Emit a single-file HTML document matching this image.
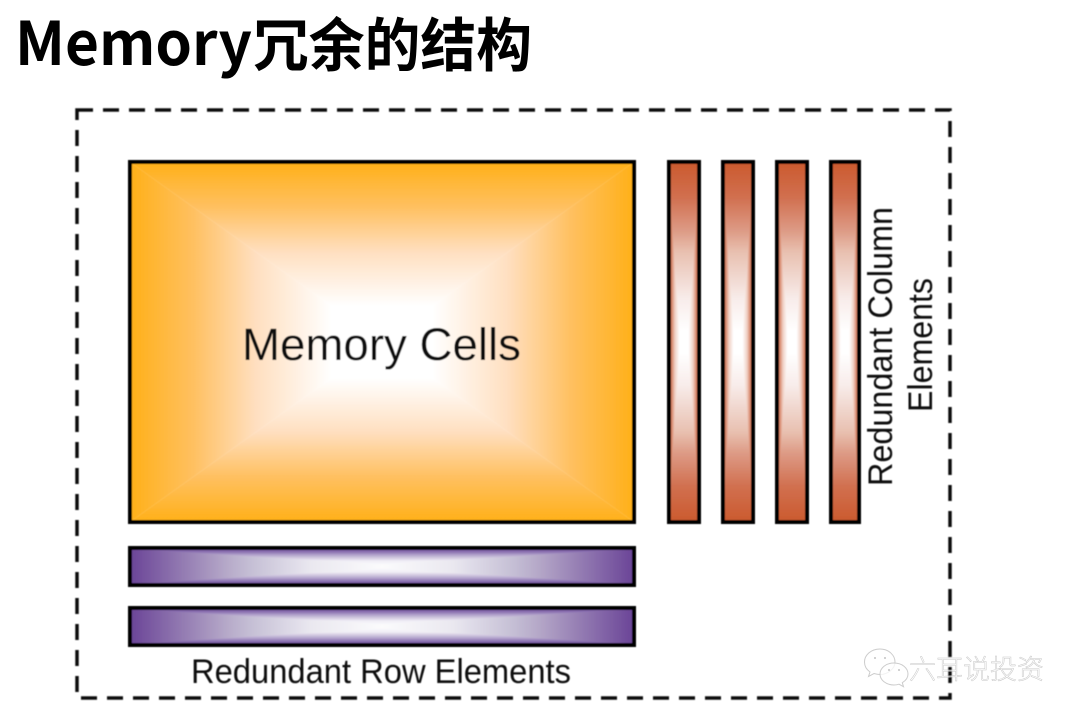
<!DOCTYPE html>
<html><head><meta charset="utf-8"><style>html,body{margin:0;padding:0;background:#fff}svg{display:block}.d{mix-blend-mode:darken}</style></head>
<body>
<svg width="1080" height="716" viewBox="0 0 1080 716" xmlns="http://www.w3.org/2000/svg">
<defs>
<linearGradient id="oT" x1="0" y1="0" x2="0" y2="1"><stop offset="0" stop-color="#ffb018"/><stop offset=".25" stop-color="#ffc060"/><stop offset=".5" stop-color="#ffdfc0"/><stop offset=".8" stop-color="#fff"/><stop offset="1" stop-color="#fff"/></linearGradient>
<linearGradient id="oB" x1="0" y1="1" x2="0" y2="0"><stop offset="0" stop-color="#ffb018"/><stop offset=".25" stop-color="#ffc060"/><stop offset=".5" stop-color="#ffdfc0"/><stop offset=".8" stop-color="#fff"/><stop offset="1" stop-color="#fff"/></linearGradient>
<linearGradient id="oL" x1="0" y1="0" x2="1" y2="0"><stop offset="0" stop-color="#ffb018"/><stop offset=".25" stop-color="#ffc060"/><stop offset=".5" stop-color="#ffdfc0"/><stop offset=".8" stop-color="#fff"/><stop offset="1" stop-color="#fff"/></linearGradient>
<linearGradient id="oR" x1="1" y1="0" x2="0" y2="0"><stop offset="0" stop-color="#ffb018"/><stop offset=".25" stop-color="#ffc060"/><stop offset=".5" stop-color="#ffdfc0"/><stop offset=".8" stop-color="#fff"/><stop offset="1" stop-color="#fff"/></linearGradient>

<linearGradient id="rV" x1="0" y1="0" x2="0" y2="1">
<stop offset="0" stop-color="#cb5a2e"/><stop offset=".1" stop-color="#d17050"/><stop offset=".19" stop-color="#dd9a85"/><stop offset=".25" stop-color="#e8c0b0"/><stop offset=".38" stop-color="#f8ecea"/><stop offset=".47" stop-color="#fff"/><stop offset=".53" stop-color="#fff"/><stop offset=".62" stop-color="#f8ecea"/><stop offset=".75" stop-color="#e8c0b0"/><stop offset=".81" stop-color="#dd9a85"/><stop offset=".9" stop-color="#d17050"/><stop offset="1" stop-color="#cb5a2e"/>
</linearGradient>
<linearGradient id="rH" x1="0" y1="0" x2="1" y2="0">
<stop offset="0" stop-color="#cb5a2e"/><stop offset=".1" stop-color="#d88a70"/><stop offset=".2" stop-color="#f0d0c4"/><stop offset=".35" stop-color="#fff"/><stop offset=".65" stop-color="#fff"/><stop offset=".8" stop-color="#f0d0c4"/><stop offset=".9" stop-color="#d88a70"/><stop offset="1" stop-color="#cb5a2e"/>
</linearGradient>

<linearGradient id="pH" x1="0" y1="0" x2="1" y2="0">
<stop offset="0" stop-color="#6a4497"/><stop offset=".19" stop-color="#b5a8c8"/><stop offset=".24" stop-color="#c5bfd5"/><stop offset=".36" stop-color="#eae8f0"/><stop offset=".5" stop-color="#fbfbfc"/><stop offset=".64" stop-color="#eae8f0"/><stop offset=".76" stop-color="#c5bfd5"/><stop offset=".81" stop-color="#b5a8c8"/><stop offset="1" stop-color="#6a4497"/>
</linearGradient>
<linearGradient id="pV" x1="0" y1="0" x2="0" y2="1">
<stop offset="0" stop-color="#6a4497"/><stop offset=".1" stop-color="#8a70b0"/><stop offset=".2" stop-color="#b8aacf"/><stop offset=".35" stop-color="#f0eef5"/><stop offset=".5" stop-color="#fff"/><stop offset=".65" stop-color="#f0eef5"/><stop offset=".8" stop-color="#b8aacf"/><stop offset=".9" stop-color="#8a70b0"/><stop offset="1" stop-color="#6a4497"/>
</linearGradient>
<filter id="soft" x="-2%" y="-2%" width="104%" height="104%"><feGaussianBlur stdDeviation="0.6"/></filter>
</defs>

<text x="15" y="65" font-family="'Noto Sans CJK SC','Liberation Sans',sans-serif" font-weight="700" font-size="60" fill="#000" textLength="237" lengthAdjust="spacingAndGlyphs">Memory</text>
<text x="253" y="66" font-family="'Noto Sans CJK SC','Liberation Sans',sans-serif" font-weight="700" font-size="58" fill="#000" textLength="279" lengthAdjust="spacingAndGlyphs">冗余的结构</text>

<g filter="url(#soft)">
<rect x="77" y="110" width="873" height="588" fill="none" stroke="#111" stroke-width="3.500" stroke-dasharray="16 10"/>

<!-- memory cells -->
<polygon points="130,162 634,162 382,342" fill="url(#oT)"/>
<polygon points="130,522 634,522 382,342" fill="url(#oB)"/>
<polygon points="130,162 130,522 382,342" fill="url(#oL)"/>
<polygon points="634,162 634,522 382,342" fill="url(#oR)"/>
<rect x="130" y="162" width="504" height="360" fill="none" stroke="#000" stroke-width="4"/>

<!-- row bars -->
<rect x="130" y="548" width="504" height="37" fill="url(#pH)"/>
<rect class="d" x="130" y="548" width="504" height="37" fill="url(#pV)"/>
<rect x="130" y="548" width="504" height="37" fill="none" stroke="#000" stroke-width="4"/>

<rect x="130" y="608" width="504" height="37" fill="url(#pH)"/>
<rect class="d" x="130" y="608" width="504" height="37" fill="url(#pV)"/>
<rect x="130" y="608" width="504" height="37" fill="none" stroke="#000" stroke-width="4"/>

<!-- column bars -->
<rect x="669" y="162" width="30" height="360" fill="url(#rV)"/>
<rect class="d" x="669" y="162" width="30" height="360" fill="url(#rH)"/>
<rect x="669" y="162" width="30" height="360" fill="none" stroke="#000" stroke-width="4"/>

<rect x="723" y="162" width="30" height="360" fill="url(#rV)"/>
<rect class="d" x="723" y="162" width="30" height="360" fill="url(#rH)"/>
<rect x="723" y="162" width="30" height="360" fill="none" stroke="#000" stroke-width="4"/>

<rect x="777" y="162" width="30" height="360" fill="url(#rV)"/>
<rect class="d" x="777" y="162" width="30" height="360" fill="url(#rH)"/>
<rect x="777" y="162" width="30" height="360" fill="none" stroke="#000" stroke-width="4"/>

<rect x="831" y="162" width="28" height="360" fill="url(#rV)"/>
<rect class="d" x="831" y="162" width="28" height="360" fill="url(#rH)"/>
<rect x="831" y="162" width="28" height="360" fill="none" stroke="#000" stroke-width="4"/>

<g font-family="'Liberation Sans',sans-serif" fill="#111">
<text x="242" y="360" font-size="45" textLength="279" lengthAdjust="spacingAndGlyphs">Memory Cells</text>
<text x="191" y="683" font-size="34" textLength="380" lengthAdjust="spacingAndGlyphs">Redundant Row Elements</text>
<text transform="translate(892 486) rotate(-90)" font-size="34" textLength="279" lengthAdjust="spacingAndGlyphs">Redundant Column</text>
<text transform="translate(932 412) rotate(-90)" font-size="34" textLength="134" lengthAdjust="spacingAndGlyphs">Elements</text>
</g>
</g>

<!-- watermark -->
<g fill="#fff" fill-opacity=".75" stroke="#cccccc" stroke-width="1">
<path d="M880 649c-9 0-15.500 6-15.500 13 0 4 2 7.500 5.500 10l-1.500 4.500 5.500-3c2 .6 4 1 6 1 8 0 15-6 15-12.500S889 649 880 649z"/>
<path d="M894 663c-8 0-14 5-14 11s6 11 14 11c1.800 0 3.500-.3 5-.8l4.500 2.500-1.200-4c3.400-2 5.700-5.200 5.700-8.700 0-6-6-11-14-11z"/>
</g>
<g fill="#c4c4c4"><circle cx="875" cy="658" r="1"/><circle cx="885" cy="658" r="1"/><circle cx="889" cy="670" r="1"/><circle cx="899" cy="670" r="1"/></g>
<text x="909" y="679" font-family="'Liberation Sans','Noto Sans CJK SC',sans-serif" font-size="27" font-weight="300" fill="#fff" fill-opacity=".6" stroke="#c8c8c8" stroke-width="0.500" textLength="135" lengthAdjust="spacingAndGlyphs">六耳说投资</text>
</svg>
</body></html>
